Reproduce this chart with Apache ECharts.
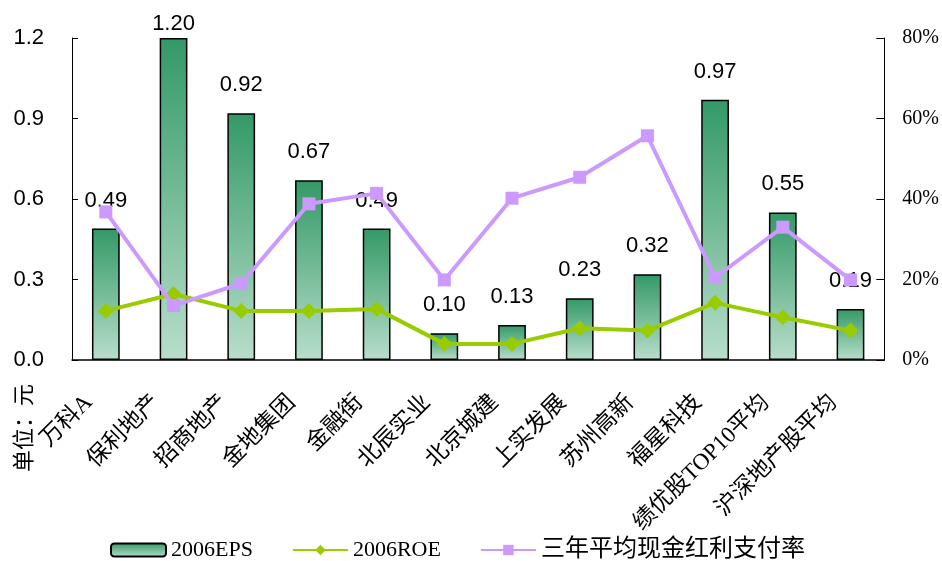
<!DOCTYPE html>
<html>
<head>
    <meta charset="utf-8">
    <title>EPS ROE</title>
    <script src="https://cdn.jsdelivr.net/npm/echarts@6/dist/echarts.min.js"></script>
    <style>
        html, body { margin: 0; padding: 0; background: #fff; }
        #main { width: 942px; height: 561px; }
    </style>
</head>
<body>
<div id="main"></div>
<script type="text/javascript">
    var categories = ['万科A', '保利地产', '招商地产', '金地集团', '金融街', '北辰实业', '北京城建', '上实发展', '苏州高新', '福星科技', '绩优股TOP10平均', '沪深地产股平均'];
    var eps = [0.49, 1.20, 0.92, 0.67, 0.49, 0.10, 0.13, 0.23, 0.32, 0.97, 0.55, 0.19];
    var roe = [12.2, 16.4, 12.2, 12.2, 12.7, 4.0, 4.0, 7.9, 7.3, 14.2, 10.6, 7.3];
    var payout = [36.8, 13.5, 19.0, 38.8, 41.4, 19.9, 40.2, 45.4, 55.7, 20.5, 33.0, 19.9];
    var leftTicks = { min: 0, max: 1.2, interval: 0.3 };
    var rightTicks = { min: 0, max: 80, interval: 20 };

    var serifFont = '"Liberation Serif", "Noto Sans CJK SC", serif';
    var sansFont = '"Liberation Sans", Arial, sans-serif';

    var myChart = echarts.init(document.getElementById('main'));

    var barColor = new echarts.graphic.LinearGradient(0, 0, 0, 1, [
        { offset: 0, color: '#339966' },
        { offset: 1, color: '#b8decb' }
    ]);

    // the tallest label is held down inside the plot, like the original
    var epsData = eps.map(function (v) {
        if (v >= leftTicks.max) {
            return { value: v, label: { distance: 3 } };
        }
        return v;
    });

    var option = {
        animation: false,
        grid: { left: 72, right: 57, top: 38, bottom: 201 },
        legend: {
            left: 105,
            top: 533,
            itemWidth: 55,
            itemHeight: 13,
            itemGap: 39,
            textStyle: { fontFamily: serifFont, fontSize: 22, color: '#000' },
            data: [
                { name: '2006EPS' },
                { name: '2006ROE' },
                { name: '三年平均现金红利支付率', textStyle: { fontSize: 24 } }
            ]
        },
        xAxis: {
            type: 'category',
            data: categories,
            axisLine: { lineStyle: { color: '#000', width: 1.5 } },
            axisTick: { inside: true, length: 7, lineStyle: { color: '#808080' } },
            axisLabel: {
                rotate: 45,
                interval: 0,
                margin: 22,
                padding: [0, 24, 0, 0],
                fontFamily: serifFont,
                fontSize: 23,
                color: '#000'
            }
        },
        yAxis: [
            {
                type: 'value',
                min: leftTicks.min,
                max: leftTicks.max,
                interval: leftTicks.interval,
                splitLine: { show: false },
                axisLine: { show: true, lineStyle: { color: '#000', width: 1 } },
                axisTick: { show: true, inside: true, length: 6, lineStyle: { color: '#000' } },
                axisLabel: {
                    margin: 28,
                    fontFamily: sansFont,
                    fontSize: 22,
                    color: '#000',
                    formatter: function (v) { return v.toFixed(1); }
                }
            },
            {
                type: 'value',
                min: rightTicks.min,
                max: rightTicks.max,
                interval: rightTicks.interval,
                splitLine: { show: false },
                axisLine: { show: true, lineStyle: { color: '#000', width: 1 } },
                axisTick: { show: true, inside: true, length: 8, lineStyle: { color: '#000' } },
                axisLabel: {
                    margin: 18,
                    fontFamily: serifFont,
                    fontSize: 20,
                    color: '#000',
                    formatter: '{value}%'
                }
            }
        ],
        series: [
            {
                name: '2006EPS',
                type: 'bar',
                yAxisIndex: 0,
                data: epsData,
                barWidth: '41%',
                itemStyle: { color: barColor, borderColor: '#000', borderWidth: 1.5 },
                label: {
                    show: true,
                    position: 'top',
                    distance: 17,
                    fontFamily: sansFont,
                    fontSize: 22,
                    color: '#000',
                    formatter: function (p) { return p.value.toFixed(2); }
                },
                z: 2
            },
            {
                name: '2006ROE',
                type: 'line',
                yAxisIndex: 1,
                data: roe,
                symbol: 'diamond',
                symbolSize: 16,
                lineStyle: { color: '#99cc00', width: 4 },
                itemStyle: { color: '#99cc00' },
                z: 3
            },
            {
                name: '三年平均现金红利支付率',
                type: 'line',
                yAxisIndex: 1,
                data: payout,
                symbol: 'rect',
                symbolSize: 13,
                lineStyle: { color: '#cc99ff', width: 4 },
                itemStyle: { color: '#cc99ff' },
                z: 4
            }
        ],
        graphic: [
            {
                type: 'text',
                x: 23,
                y: 428,
                rotation: Math.PI / 2,
                style: {
                    text: '单位：元',
                    fontFamily: '"Noto Sans CJK SC", serif',
                    fontSize: 22,
                    fill: '#000',
                    align: 'center',
                    verticalAlign: 'middle'
                }
            }
        ]
    };
    myChart.setOption(option);

    window.onresize = myChart.resize;
</script>
</body>
</html>
